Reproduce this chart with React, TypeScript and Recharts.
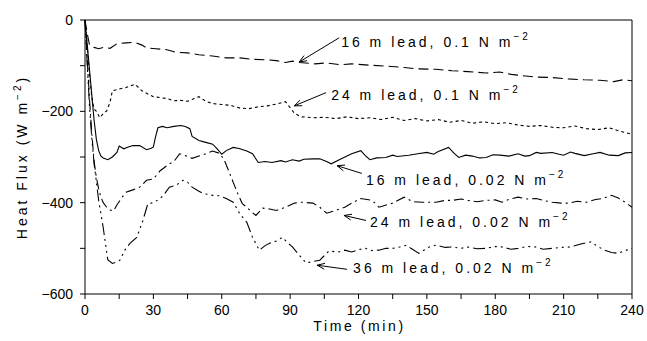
import { Line, LineChart, XAxis, YAxis } from "recharts";

// time in minutes, heat flux in W m-2
const timeTicks = [0, 15, 30, 45, 60, 75, 90, 105, 120, 135, 150, 165, 180, 195, 210, 225, 240];
const fluxTicks = [-600, -500, -400, -300, -200, -100, 0];

const lead16Stress10: [number, number][] = [
  [0, 0], [1, -30], [2, -55], [4, -60], [6, -63], [8, -60], [11, -62], [14, -52], [18, -50],
  [22, -49], [25, -55], [27, -61], [31, -63], [36, -65], [40, -71], [45, -72], [50, -76],
  [56, -79], [62, -83], [68, -83], [73, -86], [79, -87], [84, -89], [88, -93], [91, -90],
  [94, -93], [101, -96], [106, -94], [112, -98], [117, -96], [125, -99], [132, -101],
  [140, -104], [146, -107], [154, -108], [161, -111], [168, -113], [176, -116], [182, -114],
  [187, -119], [192, -122], [198, -125], [205, -126], [212, -129], [219, -131], [226, -132],
  [232, -135], [236, -131], [240, -133],
];

const lead24Stress10: [number, number][] = [
  [0, 0], [1, -60], [2, -120], [3, -170], [4, -195], [5, -200], [6.5, -214], [8, -205],
  [9.5, -199], [11, -180], [12, -155], [15, -151], [18, -148], [20, -144], [22, -141],
  [25, -155], [28, -163], [30, -168], [33, -170], [36, -172], [39, -177], [42, -176],
  [45, -178], [48, -172], [50, -168], [53, -178], [56, -183], [60, -185], [64, -187],
  [68, -193], [72, -194], [76, -190], [80, -188], [84, -184], [88, -179], [90, -192],
  [92, -205], [95, -212], [100, -214], [105, -213], [110, -216], [115, -212], [120, -216],
  [125, -214], [130, -218], [135, -213], [140, -220], [145, -216], [150, -221], [155, -218],
  [160, -224], [165, -220], [170, -226], [175, -223], [180, -227], [185, -225], [190, -230],
  [195, -233], [200, -231], [205, -235], [210, -236], [215, -232], [220, -238], [225, -240],
  [230, -236], [235, -244], [240, -250],
];

const lead16Stress02: [number, number][] = [
  [0, 0], [1, -55], [2, -110], [3, -165], [4, -220], [5, -262], [6, -286], [7, -298],
  [8, -302], [10, -306], [12, -300], [14, -290], [15, -276], [17, -282], [19, -278],
  [21, -275], [24, -275], [27, -284], [29, -281], [30, -278], [31, -255], [32, -236],
  [34, -233], [36, -236], [39, -233], [42, -231], [44, -233], [46, -238], [47, -255],
  [50, -264], [53, -268], [56, -272], [58, -282], [60, -294], [62, -286], [65, -279],
  [68, -282], [71, -287], [73.5, -293], [76, -312], [79, -310], [82, -312], [86, -308],
  [88, -311], [91, -306], [94, -309], [96, -305], [100, -304], [103, -304], [106, -310],
  [108, -315], [112, -305], [117, -293], [121, -286], [123, -297], [125, -306], [128, -302],
  [132, -301], [135, -296], [137, -299], [142, -296], [146, -293], [150, -290], [153, -294],
  [155, -288], [159.5, -279], [162, -292], [164, -301], [167, -296], [170, -298], [173, -302],
  [176, -301], [179, -295], [182, -296], [186, -298], [190, -293], [193, -298], [195, -297],
  [198, -290], [200, -292], [205, -290], [208, -294], [210, -296], [213, -289], [215, -292],
  [219, -297], [223, -293], [226, -290], [230, -296], [234, -297], [237, -291], [240, -290],
];

const lead24Stress02: [number, number][] = [
  [0, 0], [1, -90], [2, -175], [3, -250], [4, -310], [5, -345], [6, -370], [7, -388],
  [8, -400], [9.5, -410], [11, -416], [12.5, -418], [14, -405], [16, -390], [18, -377],
  [21, -372], [24, -366], [27, -351], [30, -348], [33, -330], [37, -315], [39, -310],
  [41.5, -293], [44, -297], [47, -303], [50, -298], [53, -293], [56, -287], [59, -292],
  [61, -305], [63, -330], [65, -355], [67, -380], [69, -402], [71, -410], [73, -420],
  [75, -428], [78, -412], [81, -414], [84, -417], [88, -410], [92, -401], [95, -399],
  [100, -401], [103, -410], [106, -423], [110, -417], [114, -410], [117, -401], [121, -391],
  [126, -395], [129, -410], [135, -401], [140, -388], [144, -398], [148, -399], [154, -399],
  [158, -395], [161, -395], [165, -392], [168, -395], [172, -398], [176, -395], [180, -394],
  [183, -399], [186, -393], [190, -388], [194, -392], [198, -391], [201, -395], [205, -399],
  [209, -401], [212, -401], [216, -397], [220, -399], [224, -393], [227, -391], [231, -384],
  [234, -390], [237, -399], [240, -410],
];

const lead36Stress02: [number, number][] = [
  [0, 0], [1, -100], [2, -190], [3, -260], [4, -315], [5, -355], [6, -395], [7, -425],
  [8, -455], [9, -490], [10, -525], [12, -533], [14, -530], [15.3, -526], [17.5, -504],
  [19.7, -489], [22.7, -476], [25.4, -439], [27.6, -402], [30, -400], [33, -391], [35, -380],
  [37, -366], [40, -362], [43, -351], [45, -355], [47, -366], [50, -375], [52, -380],
  [56, -384], [59, -385], [62, -391], [65, -399], [68, -425], [71, -443], [73.5, -476],
  [76.5, -504], [79, -494], [81, -489], [84, -484], [86.6, -476], [89, -488], [91, -497],
  [94, -515], [97, -532], [100, -529], [103, -526], [107, -506], [111, -508], [114, -504],
  [117, -508], [120, -503], [123, -500], [126, -505], [129, -504], [132, -500], [135, -500],
  [138, -497], [141, -493], [143, -500], [146.5, -511], [151, -497], [154, -493], [158, -498],
  [161, -497], [165, -500], [168, -497], [172, -501], [176, -500], [180, -496], [183, -497],
  [187, -502], [190, -500], [194, -496], [198, -497], [201, -502], [205, -500], [209, -498],
  [213, -497], [218, -490], [222, -486], [225, -496], [228, -504], [231, -509], [234, -511],
  [237, -505], [240, -500],
];

// annotation labels, arrow tails and tips in data units
const noteLabels = ["16 m lead, 0.1 N m", "24 m lead, 0.1 N m", "16 m lead, 0.02 N m", "24 m lead, 0.02 N m", "36 m lead, 0.02 N m"];
const noteTails: [number, number][] = [[111.5, -39], [105.8, -159], [121.5, -336], [123.3, -439], [115, -546]];
const noteTips: [number, number][] = [[94, -92], [91.8, -188], [110.6, -319], [113.7, -428], [101.9, -537]];
const noteShift = [[-1, 4], [2, 2], [1, 7], [1, 2], [3, -1]];

const font = "'Liberation Sans', Arial, sans-serif";
const axisColor = "#000";

const toRows = (points: [number, number][]) => points.map(([time, flux]) => ({ time, flux }));

const series = [
  { rows: toRows(lead16Stress10), dash: "10 5" },
  { rows: toRows(lead24Stress10), dash: "3 3" },
  { rows: toRows(lead16Stress02), dash: undefined },
  { rows: toRows(lead24Stress02), dash: "10 4 2 4" },
  { rows: toRows(lead36Stress02), dash: "12 4 2 4 2 4 2 4" },
];

// the tail carries the label, the tip gets an open arrowhead
function makeNoteDot(label: string, shift: number[]) {
  return (props: any) => {
    const { cx, cy, index, points } = props;
    if (index === 0) {
      return (
        <text
          key="label"
          x={cx + 3 + shift[0]}
          y={cy + shift[1]}
          dominantBaseline="central"
          fontFamily={font}
          fontSize={14}
          letterSpacing={3}
          fill="#000"
        >
          {label}
          <tspan dy={-6} fontSize={10}>
            {"\u22122"}
          </tspan>
        </text>
      );
    }
    if (!points || points.length < 2) return <g key="head" />;
    const from = points[0];
    const angle = Math.atan2(cy - from.y, cx - from.x);
    const head = 8;
    const wing = 0.38;
    const ax = cx - head * Math.cos(angle - wing);
    const ay = cy - head * Math.sin(angle - wing);
    const bx = cx - head * Math.cos(angle + wing);
    const by = cy - head * Math.sin(angle + wing);
    return (
      <polyline key="head" points={`${ax},${ay} ${cx},${cy} ${bx},${by}`} fill="none" stroke="#000" strokeWidth={1} />
    );
  };
}

const notes = noteLabels.map((label, i) => ({
  label,
  rows: toRows([noteTails[i], noteTips[i]]),
  dot: makeNoteDot(label, noteShift[i]),
}));

const renderTimeTick = ({ x, y, payload }: any) => {
  const value = payload.value as number;
  return (
    <text x={x} y={y} dy={14} textAnchor="middle" fontFamily={font} fontSize={14} fill="#000">
      {value % 30 === 0 ? String(value) : ""}
    </text>
  );
};

const renderFluxTick = ({ x, y, payload }: any) => {
  const value = payload.value as number;
  const label = value % 200 === 0 ? (value < 0 ? `\u2212${-value}` : String(value)) : "";
  return (
    <text x={x} y={y} textAnchor="end" dominantBaseline="central" fontFamily={font} fontSize={14} fill="#000">
      {label}
    </text>
  );
};

const renderBlankTick = ({ x, y }: any) => (
  <text x={x} y={y} fontSize={1}>
    {""}
  </text>
);

const titleStyle = {
  position: "absolute" as const,
  fontFamily: font,
  fontSize: 14,
  letterSpacing: 2.6,
  color: "#000",
  whiteSpace: "nowrap" as const,
  lineHeight: "16px",
};

export default function App() {
  return (
    <div style={{ position: "absolute", left: 0, top: 0, width: 647, height: 341 }}>
      <LineChart width={647} height={341} margin={{ top: 19, right: 14, bottom: 0, left: 0 }}>
        <XAxis
          xAxisId="bottom"
          type="number"
          dataKey="time"
          domain={[0, 240]}
          ticks={timeTicks}
          interval={0}
          height={47}
          stroke={axisColor}
          tickSize={5}
          tickMargin={2}
          tick={renderTimeTick}
        />
        <XAxis
          xAxisId="top"
          orientation="top"
          type="number"
          dataKey="time"
          domain={[0, 240]}
          ticks={timeTicks}
          interval={0}
          height={1}
          stroke={axisColor}
          tickSize={5}
          tick={renderBlankTick}
        />
        <YAxis
          yAxisId="left"
          type="number"
          domain={[-600, 0]}
          ticks={fluxTicks}
          interval={0}
          width={85}
          stroke={axisColor}
          tickSize={5}
          tickMargin={7}
          tick={renderFluxTick}
        />
        <YAxis
          yAxisId="right"
          orientation="right"
          type="number"
          domain={[-600, 0]}
          ticks={fluxTicks}
          interval={0}
          width={1}
          stroke={axisColor}
          tickSize={5}
          tick={renderBlankTick}
        />
        {series.map((s, i) => (
          <Line
            key={`series-${i}`}
            xAxisId="bottom"
            yAxisId="left"
            data={s.rows}
            dataKey="flux"
            type="linear"
            stroke="#000"
            strokeWidth={1.1}
            strokeDasharray={s.dash}
            dot={false}
            activeDot={false}
            isAnimationActive={false}
          />
        ))}
        {notes.map((note) => (
          <Line
            key={note.label}
            xAxisId="bottom"
            yAxisId="left"
            data={note.rows}
            dataKey="flux"
            type="linear"
            stroke="#000"
            strokeWidth={1}
            dot={note.dot}
            activeDot={false}
            isAnimationActive={false}
          />
        ))}
      </LineChart>
      <div style={{ ...titleStyle, left: 0, width: 719, top: 318, textAlign: "center" }}>Time (min)</div>
      <div
        style={{
          ...titleStyle,
          left: 22,
          top: 157,
          transform: "translate(-50%, -50%) rotate(-90deg)",
          letterSpacing: 3,
        }}
      >
        Heat Flux (W m<sup style={{ fontSize: 10, verticalAlign: "6px", lineHeight: 0 }}>{"\u22122"}</sup>)
      </div>
    </div>
  );
}
